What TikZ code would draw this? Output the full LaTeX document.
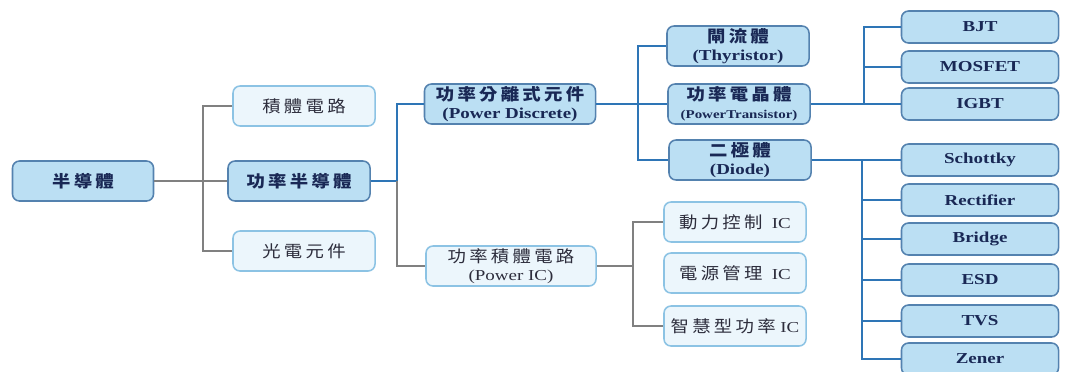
\documentclass[tikz,border=0pt]{standalone}
\usepackage{fontspec}
\setmainfont[FakeStretch=1.25]{Liberation Serif}
\newfontfamily\cjk[Scale=1.08,FakeStretch=1.12,LetterSpace=20]{Noto Sans CJK TC}
\definecolor{boxdark}{RGB}{187,223,243}
\definecolor{borderdark}{RGB}{84,130,175}
\definecolor{boxlight}{RGB}{236,246,252}
\definecolor{borderlight}{RGB}{140,195,228}
\definecolor{lineblue}{RGB}{46,117,182}
\definecolor{linegray}{RGB}{128,128,128}
\definecolor{navytext}{RGB}{25,40,85}
\definecolor{graytext}{RGB}{45,45,60}

\begin{document}
\begin{tikzpicture}[x=0.025cm, y=-0.025cm,
    box/.style={draw, rounded corners=5pt, align=center, inner sep=1pt, line width=1.1pt,
      minimum width=3.55cm, minimum height=1cm},
    darkbox/.style={box, fill=boxdark, draw=borderdark, text=navytext,
      font=\fontsize{10.8}{13}\selectfont\bfseries},
    lightbox/.style={box, fill=boxlight, draw=borderlight, text=graytext,
      font=\fontsize{10.8}{13}\selectfont},
    leaf/.style={darkbox, minimum width=3.925cm, minimum height=0.8cm},
    gline/.style={draw=linegray, line width=1pt},
    bline/.style={draw=lineblue, line width=1pt}]
  \useasboundingbox (0,0) rectangle (1069,371);

  % level 0 and 1
  \node[darkbox, minimum width=3.525cm] (semi) at (83,181) {\cjk 半導體};
  \node[lightbox] (ic) at (304,106) {\cjk 積體電路};
  \node[darkbox] (power) at (299,181) {\cjk 功率半導體};
  \node[lightbox] (opto) at (304,251) {\cjk 光電元件};

  % level 2
  \node[darkbox, minimum width=4.275cm] (disc) at (510,104) {{\cjk 功率分離式元件}\\(Power Discrete)};
  \node[lightbox, minimum width=4.25cm] (pic) at (511,266) {{\cjk 功率積體電路}\\(Power IC)};

  % level 3
  \node[darkbox] (thy) at (738,46) {{\cjk 閘流體}\\(Thyristor)};
  \node[darkbox] (pt) at (739,104) {{\cjk 功率電晶體}\\{\fontsize{8.5}{10}\selectfont(PowerTransistor)}};
  \node[darkbox] (dio) at (740,160) {{\cjk 二極體}\\(Diode)};
  \node[lightbox] (dyn) at (735,222) {{\cjk 動力控制}\ \ IC};
  \node[lightbox] (pwr) at (735,273) {{\cjk 電源管理}\ \ IC};
  \node[lightbox] (smart) at (735,326) {{\cjk 智慧型功率}\ IC};

  % level 4
  \node[leaf] (bjt) at (980,27) {BJT};
  \node[leaf] (mos) at (980,67) {MOSFET};
  \node[leaf] (igbt) at (980,104) {IGBT};
  \node[leaf] (sch) at (980,160) {Schottky};
  \node[leaf] (rect) at (980,200) {Rectifier};
  \node[leaf] (bri) at (980,239) {Bridge};
  \node[leaf] (esd) at (980,280) {ESD};
  \node[leaf] (tvs) at (980,321) {TVS};
  \node[leaf] (zen) at (980,359) {Zener};

  % junctions
  \coordinate (j1) at (203,181);
  \coordinate (j2) at (397,181);
  \coordinate (j3) at (638,104);
  \coordinate (j4) at (633,266);
  \coordinate (j5) at (864,104);
  \coordinate (j6) at (862,160);

  % connectors
  \draw[gline] (semi.east) -- (power.west);
  \draw[gline] (ic.west) -| (j1) |- (opto.west);
  \draw[bline] (power.east) -- (j2) |- (disc.west);
  \draw[gline] (j2) |- (pic.west);
  \draw[bline] (disc.east) -- (pt.west);
  \draw[bline] (thy.west) -| (j3) |- (dio.west);
  \draw[gline] (pic.east) -- (j4);
  \draw[gline] (dyn.west) -| (j4) |- (smart.west);
  \draw[bline] (pt.east) -- (igbt.west);
  \foreach \n in {bjt,mos}
    \draw[bline] (\n.west) -| (j5);
  \draw[bline] (dio.east) -- (sch.west);
  \foreach \n in {rect,bri,esd,tvs,zen}
    \draw[bline] (j6) |- (\n.west);
\end{tikzpicture}
\end{document}
